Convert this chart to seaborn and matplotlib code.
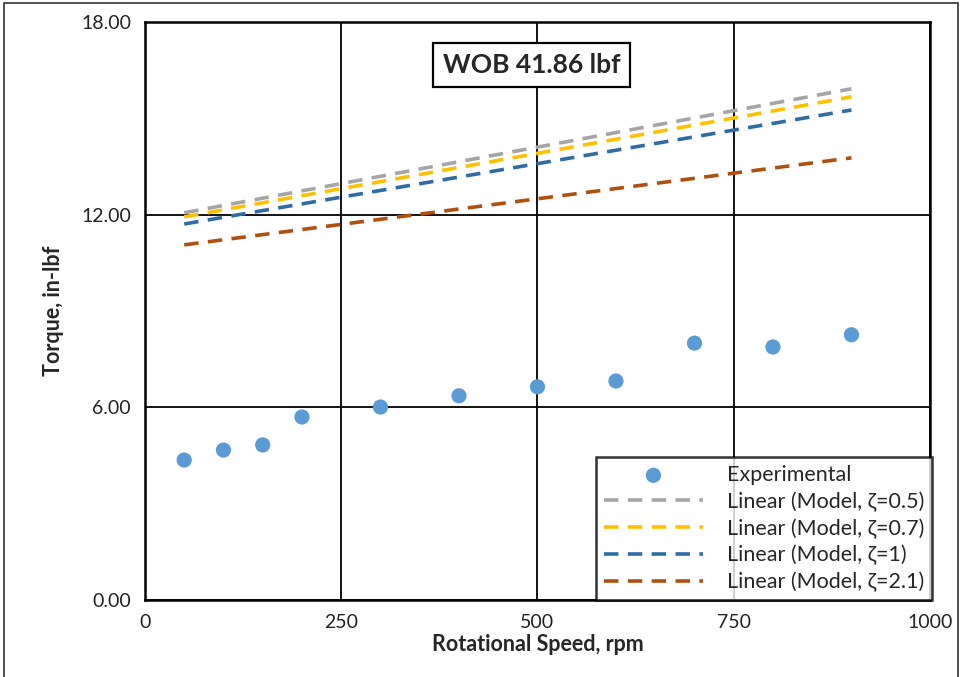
import matplotlib
matplotlib.use("Agg")
import matplotlib.pyplot as plt
import seaborn as sns
import pandas as pd
from matplotlib.patches import Rectangle

speed = [50, 100, 150, 200, 300, 400, 500, 600, 700, 800, 900]
torque = [4.36, 4.67, 4.83, 5.70, 6.01, 6.36, 6.64, 6.82, 8.00, 7.88, 8.26]

fit_x = [50, 900]
fit_series = {
    "Linear (Model, ζ=0.5)": [12.06, 15.92],
    "Linear (Model, ζ=0.7)": [11.93, 15.67],
    "Linear (Model, ζ=1)": [11.71, 15.26],
    "Linear (Model, ζ=2.1)": [11.06, 13.77],
}
fit_colors = ["#A5A5A5", "#FFC000", "#2E6DA4", "#B0500F"]

x_ticks = [0, 250, 500, 750, 1000]
y_ticks = [0, 6, 12, 18]

sns.set_style("white")
plt.rcParams["font.family"] = ["Lato", "DejaVu Sans"]

fig = plt.figure(figsize=(9.62, 6.77), dpi=100)
ax = fig.add_axes([0.1507, 0.1137, 0.8160, 0.8538])

sns.scatterplot(x=speed, y=torque, ax=ax, color="#5B9BD5", s=120,
                edgecolor="none", label="Experimental", zorder=5)
for (name, vals), c in zip(fit_series.items(), fit_colors):
    df = pd.DataFrame({"x": fit_x, "y": vals})
    sns.lineplot(data=df, x="x", y="y", ax=ax, color=c, lw=2.6,
                 dashes=False, label=name, zorder=4)
    ax.lines[-1].set_dashes([4, 2.6])

ax.set_xlim(0, 1000)
ax.set_ylim(0, 18)
ax.set_xticks(x_ticks)
ax.set_yticks(y_ticks)
ax.set_yticklabels([f"{v:.2f}" for v in y_ticks])
ax.tick_params(axis="both", length=0, labelsize=14, pad=10, colors="#222222")
ax.grid(True, color="black", lw=1.3)
for s in ax.spines.values():
    s.set_color("black")
    s.set_linewidth(1.8)

ax.set_xlabel("Rotational Speed, rpm", fontsize=15.5, fontweight="bold", labelpad=2)
ax.set_ylabel("Torque, in-lbf", fontsize=15.5, fontweight="bold", labelpad=12)

ax.text(0.4925, 0.926, "WOB 41.86 lbf", transform=ax.transAxes, ha="center", va="center",
        fontsize=19, fontweight="bold", zorder=10,
        bbox=dict(boxstyle="square,pad=0.38", fc="white", ec="black", lw=1.6))

leg = ax.legend(loc="lower right", fontsize=15.5, frameon=True, fancybox=False,
                borderpad=0.35, labelspacing=0.3, handlelength=4.6, handletextpad=1.1,
                borderaxespad=0.0, bbox_to_anchor=(1.002, 0.0), markerscale=1.0)
leg.get_frame().set_edgecolor("black")
leg.get_frame().set_linewidth(1.8)
leg.set_zorder(20)

fig.patches.append(Rectangle((0.004, -0.01), 0.992, 1.005, transform=fig.transFigure,
                             fill=False, ec="#333333", lw=1.2))

fig.savefig("out.png", dpi=100)
